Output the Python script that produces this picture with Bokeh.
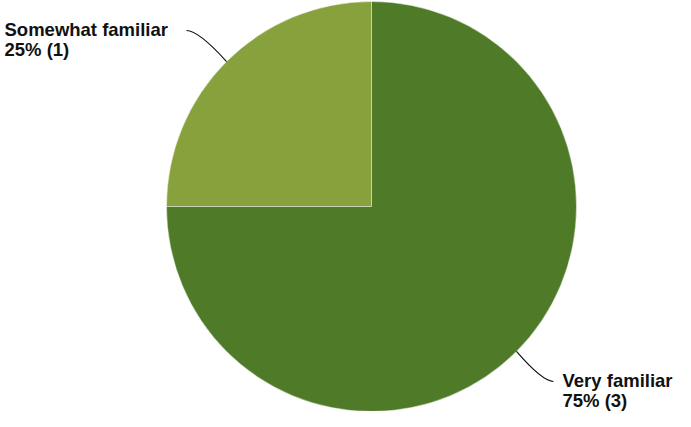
import math
from bokeh.plotting import figure
from bokeh.models import Range1d, ColumnDataSource
from bokeh.core.properties import value
from bokeh.embed import file_html
from bokeh.resources import INLINE

# ---- data ----
categories = ["Somewhat familiar", "Very familiar"]
counts = [1, 3]
colors = ["#87a13d", "#4f7b29"]

total = sum(counts)
pcts = [c / total for c in counts]
start_angles, end_angles, mids = [], [], []
a = math.pi / 2
for p_ in pcts:
    s = a
    e = a + 2 * math.pi * p_
    start_angles.append(s)
    end_angles.append(e)
    mids.append((s + e) / 2)
    a = e

H = 427
FW, FH = 675, 411
X0, Y0 = 7, 6  # reference pixel shown at figure's top-left
TXT_DY = 7     # compensation for rendered baseline offset
p = figure(width=FW, height=FH, output_backend="svg", toolbar_location=None,
           x_range=Range1d(X0, X0 + FW), y_range=Range1d(H - Y0 - FH, H - Y0), min_border=0)
p.axis.visible = False
p.grid.visible = False
p.outline_line_color = None
p.background_fill_color = "white"

cx, cy, r = 378, H - 212, 205
src = ColumnDataSource(dict(x=[cx] * len(counts), y=[cy] * len(counts), start=start_angles,
                            end=end_angles, color=colors))
p.wedge(x="x", y="y", radius=r, start_angle="start", end_angle="end", fill_color="color",
        line_color="white", line_alpha=0.45, line_width=1, source=src)

# labels and leader lines (positions in reference pixels, y from top)
label_pos = [(11, 42), (569, 393)]
ends = [(193, 36), (560, 387)]
for i, cat in enumerate(categories):
    m = mids[i]
    ex, ey = cx + r * math.cos(m), cy + r * math.sin(m)
    tx, ty = ends[i][0], H - ends[i][1]
    ctrl_x = tx + (12 if i == 0 else -11)
    ctrl_y = ty
    p.quadratic(x0=[ex], y0=[ey], x1=[tx], y1=[ty], cx=[ctrl_x], cy=[ctrl_y],
                line_color="#111111", line_width=1.2)
    lx, lyp = label_pos[i]
    ly = H - (lyp - TXT_DY)
    pct_txt = f"{round(pcts[i] * 100)}% ({counts[i]})"
    p.text(x=[lx, lx], y=[ly, ly - 20], text=[cat, pct_txt], text_font=value("Liberation Sans"),
           text_font_style="bold", text_font_size="18.5px", text_color="#111111",
           text_align="left", text_baseline="alphabetic")

open("out.html", "w").write(file_html(p, INLINE))
